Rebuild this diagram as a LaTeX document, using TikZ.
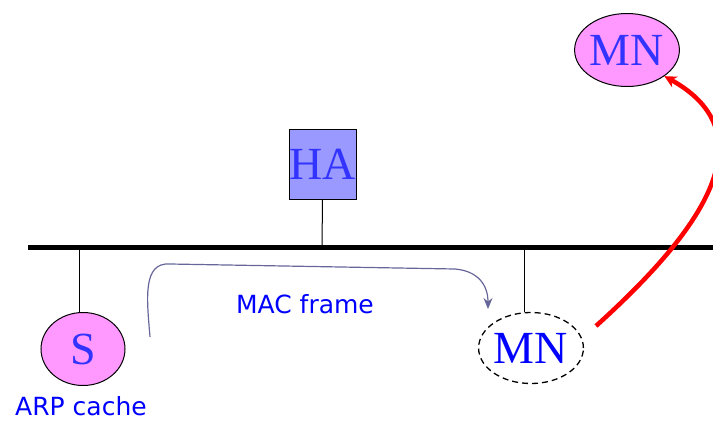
\documentclass[tikz,border=0pt]{standalone}
\usepackage{fontspec}
\setmainfont{Liberation Serif}
\newfontfamily\labelfont{DejaVu Sans}
\usetikzlibrary{shapes.geometric,arrows.meta}
\definecolor{pinkfill}{HTML}{FF99FF}
\definecolor{hafill}{HTML}{9999FF}
\definecolor{softblue}{HTML}{3333FF}
\definecolor{framecol}{HTML}{666699}
\tikzset{
  host/.style={ellipse, draw=black, line width=1pt, fill=pinkfill, inner sep=0pt,
    minimum width=84pt, minimum height=73pt, text=softblue, font=\fontsize{46}{46}\selectfont},
  ghost/.style={ellipse, draw=black, dash pattern=on 6pt off 4pt, line width=1.3pt, fill=white, inner sep=0pt,
    minimum width=85pt, minimum height=71pt, text=blue, font=\fontsize{46}{46}\selectfont},
  agent/.style={rectangle, draw=black, line width=1pt, fill=hafill, inner sep=0pt,
    minimum width=67pt, minimum height=70pt, text=softblue, font=\fontsize{46}{46}\selectfont},
  caption/.style={text=blue, font=\labelfont\fontsize{25}{25}\selectfont, inner sep=0pt},
  bus/.style={line width=5pt},
  drop/.style={line width=1pt},
  framearrow/.style={draw=framecol, line width=1.2pt, -{Stealth[length=11pt,width=9pt]}},
  movearrow/.style={draw=red, line width=4.5pt, -{Stealth[length=12pt,width=12pt]}}
}
\begin{document}
\begin{tikzpicture}[x=1pt,y=-1pt]
\useasboundingbox (0,0) rectangle (713,421);
\coordinate (busL) at (28,247);
\coordinate (busR) at (713,247);
\draw[bus] (busL) -- (busR);
\node[agent] (HA) at (322.5,164) {HA};
\node[host] (S) at (83,349) {S};
\node[ghost] (MNold) at (531,348) {MN};
\node[host] (MNnew) at (627,50) {MN};
\coordinate (tapHA) at (322,247);
\coordinate (tapS) at (79,247);
\coordinate (tapMN) at (524,247);
\draw[drop] (HA.south) -- (tapHA);
\draw[drop] (tapS) -- (tapS |- S.north);
\draw[drop] (tapMN) -- (tapMN |- MNold.north);
\node[caption] (arp) at (81,406) {ARP cache};
\node[caption] (mac) at (305,304) {MAC frame};
\coordinate (fs) at (150,337);
\coordinate (fe) at (488,309);
\draw[framearrow] (fs) .. controls (147,300) and (142,262) .. (170,264)
  -- (455,269) .. controls (478,271) and (488,285) .. (fe);
\coordinate (ms) at (596,326);
\draw[movearrow] (ms) .. controls (680,250) and (780,140) .. (MNnew.-35);
\end{tikzpicture}
\end{document}
